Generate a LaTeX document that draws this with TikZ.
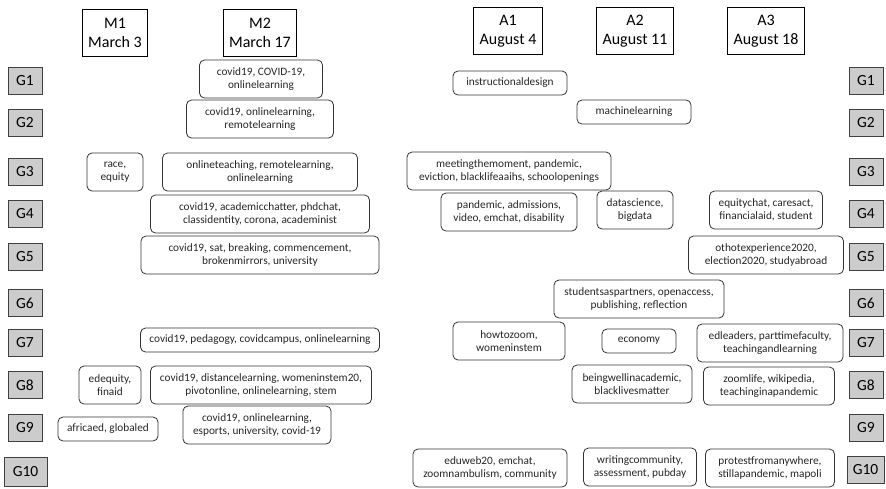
\documentclass[tikz,border=0pt]{standalone}
\usepackage{fontspec}
\setmainfont{Carlito}
\usepackage{tikz}

\begin{document}
\begin{tikzpicture}[x=1pt,y=-1pt,
  head/.style={draw=black, line width=0.9pt, align=center, font=\fontsize{16}{19.5}\selectfont, minimum height=47, inner xsep=6pt},
  grp/.style={draw=black!75, line width=0.9pt, fill=black!20, font=\fontsize{15.5}{18}\selectfont, minimum width=34, minimum height=27, inner sep=0pt},
  tag/.style={draw=black!80, line width=0.8pt, rounded corners=5pt, align=center, font=\fontsize{11.3}{12.6}\selectfont, text=black!85, minimum height=38, inner sep=2pt},
  tagone/.style={tag, minimum height=24}]
            \useasboundingbox (0,0) rectangle (886,488);

            \node[head] (m1) at (115,33) {M1\\March 3};
            \node[head] (m2) at (260,33) {M2\\March 17};
            \node[head] (a1) at (508,31) {A1\\August 4};
            \node[head] (a2) at (635,31) {A2\\August 11};
            \node[head] (a3) at (766,31) {A3\\August 18};

            \foreach \i/\y in {1/81,2/123,3/172,4/214,5/257,6/303,7/343,8/385,9/428} {
                \node[grp] (gl\i) at (25,\y) {G\i};
                \node[grp] (gr\i) at (866,\y) {G\i};
            }
            \node[grp, minimum width=43, minimum height=29] (gl10) at (25.5,472) {G10};
            \node[grp, minimum width=37] (gr10) at (865.5,470) {G10};

            \node[tag, minimum width=123] (m2g1) at (261,79) {covid19, COVID-19,\\onlinelearning};
            \node[tag, minimum width=147] (m2g2) at (260,119) {covid19, onlinelearning,\\remotelearning};
            \node[tag, minimum width=56] (m1g3) at (115,172) {race,\\equity};
            \node[tag, minimum width=195] (m2g3) at (260,172) {onlineteaching, remotelearning,\\onlinelearning};
            \node[tag, minimum width=219] (m2g4) at (260,214) {covid19, academicchatter, phdchat,\\classidentity, corona, academinist};
            \node[tag, minimum width=238] (m2g5) at (260,255) {covid19, sat, breaking, commencement,\\brokenmirrors, university};
            \node[tagone, minimum width=239] (m2g7) at (260,340) {covid19, pedagogy, covidcampus, onlinelearning};
            \node[tag, minimum width=62] (m1g8) at (110,385) {edequity,\\finaid};
            \node[tag, minimum width=221] (m2g8) at (261,385) {covid19, distancelearning, womeninstem20,\\pivotonline, onlinelearning, stem};
            \node[tagone, minimum width=100] (m1g9) at (108,429) {africaed, globaled};
            \node[tag, minimum width=148] (m2g9) at (257,425) {covid19, onlinelearning,\\esports, university, covid-19};

            \node[tagone, minimum width=114] (a1g1) at (510,83) {instructionaldesign};
            \node[tagone, minimum width=114] (a2g2) at (634,112) {machinelearning};
            \node[tag, minimum width=204] (a1g3) at (509,171) {meetingthemoment, pandemic,\\eviction, blacklifeaaihs, schoolopenings};
            \node[tag, minimum width=136] (a1g4) at (509,212) {pandemic, admissions,\\video, emchat, disability};
            \node[tag, minimum width=76] (a2g4) at (635,210) {datascience,\\bigdata};
            \node[tag, minimum width=113] (a3g4) at (766,210) {equitychat, caresact,\\financialaid, student};
            \node[tag, minimum width=155] (a3g5) at (766,255) {othotexperience2020,\\election2020, studyabroad};
            \node[tag, minimum width=170] (a2g6) at (639,299) {studentsaspartners, openaccess,\\publishing, reflection};
            \node[tag, minimum width=112] (a1g7) at (509,341) {howtozoom,\\womeninstem};
            \node[tagone, minimum width=74] (a2g7) at (639,341) {economy};
            \node[tag, minimum width=146] (a3g7) at (770,343) {edleaders, parttimefaculty,\\teachingandlearning};
            \node[tag, minimum width=120] (a2g8) at (632,384) {beingwellinacademic,\\blacklivesmatter};
            \node[tag, minimum width=131] (a3g8) at (769,386) {zoomlife, wikipedia,\\teachinginapandemic};
            \node[tag, minimum width=154] (a1g10) at (490,468) {eduweb20, emchat,\\zoomnambulism, community};
            \node[tag, minimum width=113] (a2g10) at (640,467) {writingcommunity,\\assessment, pubday};
            \node[tag, minimum width=129] (a3g10) at (770,468) {protestfromanywhere,\\stillapandemic, mapoli};
        \end{tikzpicture}
\end{document}
